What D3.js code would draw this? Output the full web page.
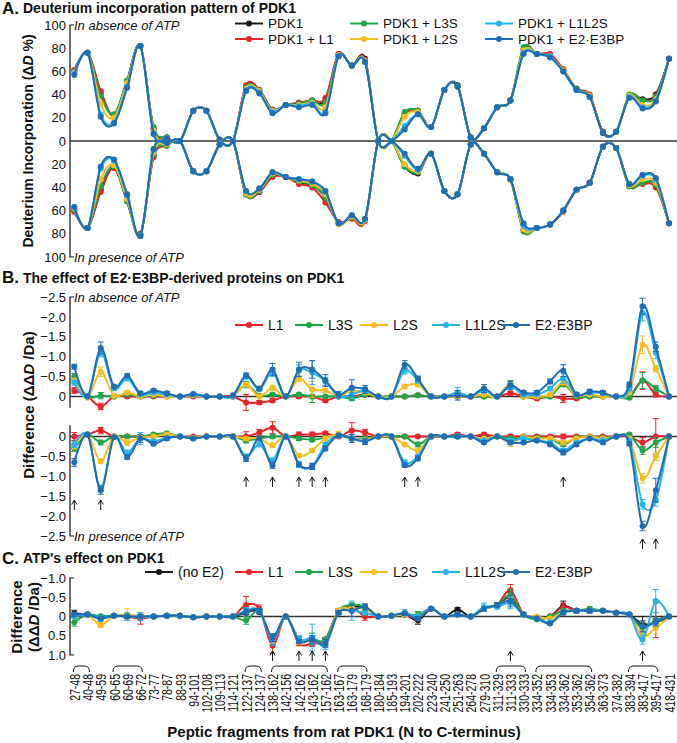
<!DOCTYPE html>
<html>
<head>
<meta charset="utf-8">
<script src="https://cdn.jsdelivr.net/npm/d3@7"></script>
<style>
body{margin:0;background:#fff;}
svg{display:block;}
text{font-family:"Liberation Sans",Arial,Helvetica,sans-serif;}
</style>
</head>
<body>
<svg id="chart" width="677" height="743"></svg>
<script>
// ---------------- DATA ----------------
const fragments = ["27-48","40-48","49-59","60-65","60-69","66-72","73-77","78-87","88-93","94-101","102-108","109-113","114-121","122-137","124-137","138-162","142-156","142-162","143-162","157-162","163-167","163-179","168-179","180-184","185-193","194-201","202-222","223-240","241-250","251-263","264-278","279-310","311-329","311-333","330-333","334-352","334-353","334-362","353-362","354-362","363-373","374-382","383-394","383-417","395-417","418-431"];

const namesA = ["PDK1","PDK1 + L1","PDK1 + L3S","PDK1 + L2S","PDK1 + L1L2S","PDK1 + E2·E3BP"];
const namesB = ["L1","L3S","L2S","L1L2S","E2·E3BP"];
const namesC = ["(no E2)","L1","L3S","L2S","L1L2S","E2·E3BP"];

// Panel A, absence of ATP (% deuterium)
const aAbsPDK1  = [61,76,41,22,52,82,10,3,0,26,26,1,0,47,44,27,31,33,35,35,75,65,71,0,0,24,26,12,44,48,3,11,29,35,79,75,74,61,45,39,8,8,39,36,40,71];
const aAbsL1    = [61,76,43,22,52,82,11,3,0,26,26,1,0,48,44,27,31,33,35,37,75,65,70,0,0,23,26,12,44,47,3,11,29,35,78,75,75,62,45,40,8,8,39,35,39,71];
const aAbsL3S   = [60,76,39,23,52,82,12,3,0,26,26,1,0,46,43,26,31,32,35,33,74,65,69,0,0,25,26,12,44,47,3,11,29,35,81,75,73,61,45,39,7,8,40,35,38,71];
const aAbsL2S   = [59,76,32,20,50,82,9,2,0,26,26,1,0,45,43,26,31,31,33,29,74,65,69,0,0,21,25,12,44,47,3,11,29,35,78,75,73,61,44,39,7,8,39,31,36,71];
const aAbsL1L2S = [58,76,23,16,47,82,7,2,0,26,26,1,0,44,42,25,31,30,32,25,73,65,68,0,0,13,23,12,44,47,3,11,29,35,76,75,73,60,44,38,7,8,38,29,35,71];
const aAbsE2    = [57,76,21,15,46,82,6,2,0,26,26,1,0,43,41,24,31,29,31,24,73,65,68,0,0,10,23,12,44,47,3,11,29,35,75,75,72,60,44,38,7,8,37,28,34,71];

// Panel A, presence of ATP (% deuterium, drawn downward)
const aPresPDK1  = [60,75,42,23,52,81,12,3,0,26,26,3,0,46,44,30,31,36,38,48,70,66,68,0,0,22,28,11,43,46,3,11,27,33,77,75,72,60,42,36,5,6,39,36,38,71];
const aPresL1    = [61,75,44,23,52,80,14,4,0,26,26,3,0,46,44,31,31,37,40,53,70,67,69,0,0,21,27,11,43,46,3,11,27,33,76,75,72,61,42,36,5,6,38,37,40,71];
const aPresL3S   = [59,75,39,22,52,81,12,4,0,26,26,3,0,46,43,29,31,35,38,49,71,66,68,0,0,22,27,11,43,46,3,11,27,33,78,75,72,60,42,36,5,6,39,36,38,71];
const aPresL2S   = [58,75,33,21,50,82,10,3,0,26,26,3,0,45,42,28,31,34,37,46,72,65,68,0,0,20,26,11,43,46,3,11,27,33,76,75,72,60,42,36,5,6,38,33,36,71];
const aPresL1L2S = [57,75,24,17,47,82,8,2,0,26,26,3,0,43,41,27,31,33,35,44,71,64,67,0,0,13,25,11,43,46,3,11,27,33,73,75,72,60,42,36,5,6,37,30,33,71];
const aPresE2    = [57,75,22,16,46,82,7,2,0,26,26,3,0,43,41,27,31,33,35,43,71,64,67,0,0,11,24,11,43,46,3,11,27,33,71,75,72,60,42,36,5,6,37,29,32,71];

// Panel B, absence of ATP (ΔΔD, Da)
const bAbsL1    = [-0.15,0.00,0.25,0.00,0.00,0.00,0.00,0.00,0.00,0.00,0.00,0.00,0.00,0.15,0.15,0.10,0.00,0.00,0.00,0.10,0.00,0.00,-0.05,0.00,0.00,0.00,-0.03,0.00,0.00,0.00,0.00,0.00,0.00,-0.08,0.00,0.05,0.00,0.05,0.05,0.00,0.00,0.00,0.00,-0.40,-0.05,0.00];
const bAbsL3S   = [-0.50,0.00,-0.02,0.00,-0.05,0.00,-0.02,-0.03,0.00,-0.03,0.00,0.00,0.00,-0.30,-0.02,-0.05,0.00,-0.05,0.00,0.00,0.00,0.05,-0.05,0.00,0.00,0.00,-0.03,0.00,0.00,0.00,0.00,0.00,0.00,-0.30,0.00,0.00,0.00,-0.30,0.00,0.00,0.00,0.00,0.03,-0.40,-0.20,0.00];
const bAbsL2S   = [-0.40,0.03,-0.62,-0.02,-0.10,0.00,-0.05,0.00,0.00,-0.03,0.00,0.00,0.00,-0.30,0.00,-0.22,0.00,-0.45,-0.18,-0.15,-0.02,-0.15,-0.10,0.00,0.00,-0.25,-0.30,0.00,0.00,0.00,0.00,-0.05,0.00,-0.30,0.00,0.00,-0.05,-0.35,-0.03,-0.05,0.00,0.00,-0.10,-1.30,-0.70,0.00];
const bAbsL1L2S = [-0.35,0.00,-1.10,-0.20,-0.45,-0.05,-0.10,-0.05,0.00,-0.05,0.00,0.00,0.00,-0.50,-0.18,-0.60,0.00,-0.65,-0.60,-0.38,0.00,-0.05,-0.15,0.00,0.00,-0.65,-0.40,0.00,0.00,-0.10,0.00,-0.15,0.00,-0.25,-0.05,-0.05,-0.20,-0.45,-0.05,-0.10,-0.08,0.00,-0.20,-2.10,-1.10,0.00];
const bAbsE2    = [-0.75,0.00,-1.22,-0.25,-0.52,-0.08,-0.15,-0.08,0.00,-0.06,0.00,0.00,-0.03,-0.53,-0.20,-0.68,0.00,-0.68,-0.68,-0.40,-0.05,-0.22,-0.18,0.00,0.00,-0.80,-0.45,0.00,0.00,-0.03,0.00,-0.20,0.00,-0.28,-0.10,-0.10,-0.38,-0.65,-0.05,-0.12,-0.10,0.00,-0.30,-2.27,-1.25,0.00];
// error bars, absence
const bAbsErrL1    = [0.07,0.02,0.08,0.03,0.03,0.03,0.03,0.02,0.02,0.02,0.02,0.02,0.02,0.20,0.05,0.05,0.02,0.04,0.04,0.05,0.03,0.05,0.04,0.02,0.02,0.03,0.03,0.02,0.02,0.05,0.02,0.03,0.02,0.05,0.03,0.03,0.03,0.10,0.03,0.03,0.03,0.02,0.03,0.22,0.06,0.02];
const bAbsErrL3S   = [0.08,0.02,0.08,0.03,0.03,0.05,0.03,0.03,0.02,0.02,0.02,0.02,0.02,0.08,0.03,0.04,0.02,0.04,0.15,0.03,0.03,0.05,0.05,0.02,0.02,0.03,0.03,0.02,0.02,0.03,0.02,0.03,0.02,0.10,0.03,0.03,0.03,0.05,0.03,0.03,0.03,0.02,0.03,0.20,0.08,0.02];
const bAbsErrL2S   = [0.05,0.02,0.12,0.03,0.04,0.02,0.03,0.02,0.02,0.02,0.02,0.02,0.02,0.05,0.03,0.06,0.02,0.08,0.20,0.05,0.03,0.05,0.05,0.02,0.02,0.05,0.05,0.02,0.02,0.03,0.02,0.03,0.02,0.06,0.03,0.03,0.03,0.06,0.03,0.03,0.03,0.02,0.05,0.22,0.08,0.02];
const bAbsErrL1L2S = [0.06,0.02,0.10,0.04,0.05,0.03,0.04,0.03,0.02,0.02,0.02,0.02,0.02,0.06,0.04,0.10,0.02,0.15,0.30,0.10,0.04,0.10,0.08,0.02,0.02,0.08,0.06,0.02,0.02,0.12,0.02,0.06,0.02,0.08,0.04,0.04,0.05,0.12,0.04,0.05,0.04,0.02,0.05,0.20,0.15,0.02];
const bAbsErrE2    = [0.06,0.02,0.15,0.04,0.05,0.04,0.04,0.04,0.02,0.03,0.02,0.02,0.02,0.06,0.04,0.15,0.02,0.18,0.22,0.15,0.08,0.20,0.10,0.02,0.02,0.10,0.06,0.03,0.03,0.12,0.03,0.10,0.03,0.10,0.05,0.05,0.06,0.15,0.05,0.06,0.05,0.02,0.06,0.20,0.12,0.02];

// Panel B, presence of ATP
const bPresL1    = [0.00,0.05,0.15,0.00,0.00,0.00,0.03,0.05,0.00,0.00,0.00,0.00,0.00,0.00,0.10,0.22,0.00,0.05,0.05,0.08,0.00,0.15,0.10,0.00,0.00,0.00,0.00,0.00,0.00,0.05,0.00,0.05,0.00,0.00,0.00,0.00,0.00,0.00,0.00,0.00,0.00,0.00,0.00,-0.15,0.00,0.00];
const bPresL3S   = [-0.30,0.05,-0.15,0.00,0.00,0.00,0.05,0.08,0.00,-0.03,0.00,0.00,0.00,-0.10,-0.05,0.00,0.00,-0.05,-0.08,-0.03,0.03,-0.05,-0.05,0.00,0.00,0.00,-0.20,0.00,0.00,0.00,0.00,-0.05,0.00,-0.05,-0.02,-0.03,-0.05,-0.20,-0.03,0.00,-0.03,0.00,0.05,-0.35,-0.15,0.00];
const bPresL2S   = [-0.25,0.05,-0.62,0.00,-0.15,-0.02,0.00,0.05,0.00,-0.03,0.00,0.00,0.00,-0.05,-0.05,-0.22,0.00,-0.48,-0.35,-0.05,0.05,-0.05,-0.08,0.00,0.00,-0.20,-0.35,0.00,0.00,0.00,0.00,-0.05,0.00,-0.15,-0.02,-0.05,-0.05,-0.15,-0.05,0.00,-0.05,0.00,-0.05,-1.05,-0.50,0.00];
const bPresL1L2S = [-0.20,0.05,-1.30,-0.02,-0.40,-0.05,-0.12,-0.03,0.00,-0.05,0.00,0.00,0.00,-0.50,-0.20,-0.60,0.00,-0.72,-0.75,-0.20,0.02,-0.05,-0.12,0.00,0.00,-0.65,-0.50,0.00,0.00,0.00,0.00,-0.10,0.00,-0.10,-0.05,-0.10,-0.15,-0.35,-0.15,-0.05,-0.10,0.00,-0.10,-1.70,-1.60,0.00];
const bPresE2    = [-0.65,0.05,-1.35,-0.02,-0.52,-0.05,-0.18,-0.05,0.00,-0.05,0.00,0.00,0.00,-0.55,-0.05,-0.72,0.00,-0.70,-0.75,-0.30,0.03,-0.05,-0.12,0.00,0.00,-0.72,-0.55,0.00,0.00,0.00,0.00,-0.15,0.00,-0.15,-0.15,-0.10,-0.20,-0.40,-0.20,-0.05,-0.15,0.00,-0.18,-2.25,-1.35,0.00];
const bPresErrL1    = [0.10,0.02,0.08,0.03,0.04,0.04,0.03,0.03,0.02,0.02,0.02,0.02,0.02,0.12,0.08,0.15,0.02,0.06,0.06,0.04,0.03,0.20,0.08,0.02,0.02,0.03,0.03,0.02,0.02,0.05,0.02,0.04,0.02,0.05,0.03,0.03,0.03,0.06,0.03,0.03,0.03,0.02,0.03,0.12,0.45,0.02];
const bPresErrL3S   = [0.08,0.02,0.06,0.03,0.03,0.03,0.03,0.03,0.02,0.02,0.02,0.02,0.02,0.06,0.03,0.04,0.02,0.05,0.04,0.03,0.03,0.05,0.05,0.02,0.02,0.03,0.06,0.02,0.02,0.03,0.02,0.03,0.02,0.05,0.03,0.03,0.03,0.05,0.03,0.03,0.03,0.02,0.03,0.10,0.12,0.02];
const bPresErrL2S   = [0.06,0.02,0.05,0.03,0.08,0.03,0.03,0.03,0.02,0.02,0.02,0.02,0.02,0.04,0.04,0.05,0.02,0.05,0.05,0.04,0.08,0.05,0.05,0.02,0.02,0.04,0.05,0.02,0.02,0.04,0.02,0.03,0.02,0.10,0.03,0.03,0.03,0.05,0.03,0.03,0.03,0.02,0.04,0.12,0.10,0.02];
const bPresErrL1L2S = [0.08,0.02,0.08,0.03,0.05,0.15,0.05,0.03,0.02,0.02,0.02,0.02,0.02,0.06,0.05,0.06,0.02,0.05,0.06,0.05,0.03,0.05,0.05,0.02,0.02,0.05,0.05,0.02,0.02,0.05,0.02,0.03,0.02,0.05,0.03,0.03,0.03,0.05,0.03,0.03,0.03,0.02,0.04,0.12,0.15,0.02];
const bPresErrE2    = [0.10,0.02,0.10,0.03,0.05,0.10,0.05,0.04,0.02,0.03,0.02,0.02,0.02,0.08,0.05,0.08,0.02,0.06,0.08,0.06,0.04,0.10,0.08,0.02,0.02,0.05,0.06,0.02,0.03,0.04,0.02,0.04,0.02,0.05,0.04,0.03,0.04,0.06,0.04,0.03,0.04,0.02,0.05,0.12,0.30,0.02];

// Panel C, ATP's effect (ΔΔD, Da)
const cNoE2   = [-0.08,-0.05,0.00,-0.02,0.00,0.00,0.00,-0.02,-0.02,0.02,0.00,0.00,0.00,-0.10,-0.12,0.55,0.00,0.60,0.62,0.60,-0.15,-0.25,-0.22,0.00,-0.02,-0.05,0.10,-0.20,0.00,-0.18,0.00,-0.20,-0.30,-0.50,-0.05,0.05,0.00,-0.28,-0.15,-0.15,-0.15,-0.10,-0.05,0.20,0.15,0.00];
const cL1     = [0.00,-0.05,0.05,-0.02,0.00,0.05,0.00,-0.02,-0.02,0.02,0.00,0.00,0.00,-0.30,-0.20,0.75,0.00,0.70,0.70,0.60,-0.15,-0.25,0.00,0.00,-0.02,-0.05,0.05,-0.20,0.00,-0.05,0.00,-0.20,-0.30,-0.68,-0.05,0.05,0.00,-0.25,-0.15,-0.15,-0.15,-0.10,-0.05,0.30,0.10,0.00];
const cL3S    = [0.15,-0.05,0.00,-0.02,-0.03,0.00,0.00,-0.02,-0.02,0.02,0.00,0.00,0.00,0.10,-0.15,0.55,0.00,0.60,0.58,0.60,-0.15,-0.30,-0.25,0.00,-0.02,-0.05,-0.05,-0.20,0.00,-0.05,0.00,-0.20,-0.30,-0.55,-0.05,0.08,0.00,-0.15,-0.15,-0.20,-0.15,-0.10,-0.05,0.30,0.10,0.00];
const cL2S    = [0.00,-0.05,0.22,-0.02,-0.05,0.00,0.00,-0.02,-0.02,0.02,0.00,0.00,0.00,-0.15,-0.15,0.60,0.00,0.65,0.60,0.70,-0.15,-0.20,-0.20,0.00,-0.02,-0.05,0.00,-0.20,0.00,-0.05,0.00,-0.20,-0.28,-0.40,-0.05,0.00,0.05,-0.10,-0.15,-0.15,-0.15,-0.10,-0.05,0.50,0.30,0.00];
const cL1L2S  = [0.00,-0.05,0.05,-0.02,0.00,0.00,0.00,-0.02,-0.02,0.02,0.00,0.00,0.00,-0.15,-0.15,0.60,0.00,0.60,0.55,0.75,-0.10,-0.15,-0.10,0.00,-0.02,-0.10,0.00,-0.20,0.00,-0.05,0.00,-0.25,-0.25,-0.35,-0.05,0.05,0.15,-0.10,-0.15,-0.15,-0.15,-0.10,-0.05,0.60,-0.40,0.00];
const cE2     = [-0.05,-0.05,0.05,-0.02,0.00,0.00,0.00,-0.02,-0.02,0.02,0.00,0.00,0.00,-0.12,-0.15,0.55,0.00,0.65,0.60,0.70,-0.10,-0.15,-0.25,0.00,-0.02,-0.08,0.05,-0.20,0.00,-0.05,0.00,-0.20,-0.30,-0.40,-0.05,0.05,0.18,-0.10,-0.15,-0.15,-0.15,-0.10,-0.05,0.25,0.15,0.00];
const cErrNoE2  = [0.08,0.03,0.03,0.03,0.05,0.05,0.03,0.03,0.02,0.02,0.02,0.02,0.02,0.05,0.05,0.10,0.02,0.05,0.10,0.05,0.05,0.05,0.05,0.02,0.02,0.05,0.10,0.03,0.02,0.05,0.02,0.05,0.05,0.12,0.03,0.03,0.03,0.12,0.05,0.05,0.03,0.03,0.03,0.20,0.10,0.02];
const cErrL1    = [0.05,0.03,0.03,0.03,0.05,0.15,0.03,0.03,0.02,0.02,0.02,0.02,0.02,0.22,0.10,0.20,0.02,0.05,0.08,0.05,0.05,0.05,0.10,0.02,0.02,0.05,0.05,0.03,0.02,0.05,0.02,0.05,0.05,0.15,0.03,0.03,0.03,0.10,0.05,0.05,0.03,0.03,0.03,0.15,0.45,0.02];
const cErrL3S   = [0.10,0.03,0.03,0.03,0.05,0.05,0.03,0.03,0.02,0.02,0.02,0.02,0.02,0.10,0.05,0.10,0.02,0.08,0.15,0.05,0.05,0.05,0.05,0.02,0.02,0.05,0.08,0.03,0.02,0.05,0.02,0.05,0.05,0.15,0.03,0.03,0.03,0.05,0.05,0.05,0.03,0.03,0.03,0.15,0.20,0.02];
const cErrL2S   = [0.05,0.03,0.06,0.03,0.15,0.05,0.03,0.03,0.02,0.02,0.02,0.02,0.02,0.05,0.05,0.10,0.02,0.08,0.10,0.05,0.05,0.05,0.05,0.02,0.02,0.05,0.05,0.03,0.02,0.05,0.02,0.05,0.05,0.10,0.03,0.03,0.03,0.05,0.05,0.05,0.03,0.03,0.03,0.15,0.15,0.02];
const cErrL1L2S = [0.05,0.05,0.08,0.03,0.10,0.10,0.03,0.03,0.02,0.02,0.02,0.02,0.02,0.08,0.05,0.15,0.02,0.10,0.35,0.10,0.05,0.25,0.05,0.02,0.02,0.08,0.05,0.03,0.02,0.05,0.02,0.10,0.05,0.15,0.03,0.03,0.03,0.05,0.05,0.05,0.03,0.03,0.03,0.12,0.30,0.02];
const cErrE2    = [0.05,0.03,0.03,0.03,0.05,0.05,0.03,0.03,0.02,0.02,0.02,0.02,0.02,0.08,0.05,0.10,0.02,0.05,0.10,0.10,0.05,0.15,0.08,0.02,0.02,0.05,0.05,0.03,0.02,0.05,0.02,0.05,0.05,0.15,0.03,0.03,0.03,0.05,0.05,0.05,0.03,0.03,0.03,0.15,0.10,0.02];

// tick labels
const ticksA = [0,20,40,60,80,100];
const ticksB = [-2.5,-2.0,-1.5,-1.0,-0.5,0];
const ticksC = [-1.0,-0.5,0,0.5,1.0];

// arrows (fragments marked) and brackets (grouped fragments)
const arrowsB1 = ["122-137","138-162","142-162","143-162","157-162","194-201","202-222","334-362"];
const arrowsB2 = ["27-48","49-59"];
const arrowsB3 = ["383-417","395-417"];
const arrowsC  = ["138-162","142-162","143-162","157-162","311-333","383-417"];
const brackets = [["27-48","40-48"],["60-65","66-72"],["122-137","124-137"],["138-162","157-162"],["163-167","168-179"],["311-329","330-333"],["334-352","354-362"],["383-394","395-417"]];

// ---------------- STYLE ----------------
const COL = {black:"#1a1a1a", red:"#e8232a", green:"#1fa64a", yellow:"#f6bd1e", lblue:"#2ab4e9", blue:"#1f6db5"};
const colA = [COL.black,COL.red,COL.green,COL.yellow,COL.lblue,COL.blue];
const colB = [COL.red,COL.green,COL.yellow,COL.lblue,COL.blue];
const FONT = '"Liberation Sans",Arial,Helvetica,sans-serif';
const AX = 70;      // y-axis x position
const RIGHT = 677;  // zero line end

const svg = d3.select("#chart");
svg.append("rect").attr("width",677).attr("height",743).attr("fill","#fff");

const x = d3.scalePoint().domain(fragments).range([74.3, 669]);
const xi = i => x(fragments[i]);
const curve = d3.curveCardinal.tension(0);

function drawSeries(vals, errs, y, color){
  const g = svg.append("g");
  if (errs){
    vals.forEach((v,i)=>{
      const e = errs[i]; if (!e || e < 0.03) return;
      const cx = xi(i), ya = y(v-e), yb = y(v+e);
      g.append("path").attr("d",`M${cx},${ya}V${yb}M${cx-3},${ya}H${cx+3}M${cx-3},${yb}H${cx+3}`)
        .attr("stroke",color).attr("stroke-width",1).attr("fill","none");
    });
  }
  const line = d3.line().x((d,i)=>xi(i)).y(d=>y(d)).curve(curve);
  g.append("path").datum(vals).attr("d",line).attr("fill","none").attr("stroke",color).attr("stroke-width",2);
  g.selectAll("circle").data(vals).join("circle")
    .attr("cx",(d,i)=>xi(i)).attr("cy",d=>y(d)).attr("r",3).attr("fill",color);
}

function yAxis(scale, ticks, fmt, yTop, yBot, capTop, capBot){
  const g = svg.append("g").attr("transform",`translate(${AX},0)`)
    .call(d3.axisLeft(scale).tickValues(ticks).tickFormat(fmt).tickSize(0).tickPadding(4));
  g.select(".domain").remove();
  g.attr("font-family",FONT).attr("font-size",13);
  g.selectAll("text").attr("fill","#111");
  svg.append("path")
    .attr("d",`M${AX+(capTop?4:0)},${yTop}H${AX}V${yBot}H${AX+(capBot?4:0)}`)
    .attr("stroke","#111").attr("stroke-width",1.2).attr("fill","none");
}
function zeroLine(y0){
  svg.append("line").attr("x1",AX).attr("x2",RIGHT).attr("y1",y0).attr("y2",y0)
    .attr("stroke","#333").attr("stroke-width",1.5);
}
const fmtDec = d => d===0 ? "0" : (d<0?"\u2212":"") + Math.abs(d).toFixed(1);

function txt(xp, yp, s, size, opts={}){
  const t = svg.append("text").attr("x",xp).attr("y",yp).attr("font-size",size).attr("fill","#111")
    .attr("font-family",FONT).text(s);
  if (opts.bold) t.attr("font-weight","bold");
  if (opts.italic) t.attr("font-style","italic");
  if (opts.anchor) t.attr("text-anchor",opts.anchor);
  return t;
}
function legendItem(x1, yy, label, color, size){
  svg.append("line").attr("x1",x1).attr("x2",x1+28).attr("y1",yy).attr("y2",yy).attr("stroke",color).attr("stroke-width",2);
  svg.append("circle").attr("cx",x1+14).attr("cy",yy).attr("r",3).attr("fill",color);
  txt(x1+33, yy+0.35*size, label, size);
}
function arrow(xc, yTop){
  svg.append("path").attr("d",`M${xc},${yTop+10}V${yTop}M${xc-2.6},${yTop+4.5}L${xc},${yTop}L${xc+2.6},${yTop+4.5}`)
    .attr("stroke","#111").attr("stroke-width",1).attr("fill","none");
}
function vtext(xp, yp, parts, size){
  const t = svg.append("text").attr("transform",`translate(${xp},${yp}) rotate(-90)`)
    .attr("text-anchor","middle").attr("font-size",size).attr("font-weight","bold").attr("font-family",FONT).attr("fill","#111");
  parts.forEach(p=>{ const s=t.append("tspan").text(p[0]); if(p[1]) s.attr("font-style","italic"); });
  return t;
}

// ---------------- PANEL A ----------------
txt(2, 14, "A.", 17, {bold:true});
txt(23, 13, "Deuterium incorporation pattern of PDK1", 14, {bold:true});
const yAt = d3.scaleLinear().domain([0,100]).range([141,25]);
const yAb = d3.scaleLinear().domain([0,100]).range([141,257]);
yAxis(yAt, ticksA, d=>d, 25, 141, true, false);
yAxis(yAb, ticksA.slice(1), d=>d, 141, 257, false, true);
zeroLine(141);
txt(74, 30, "In absence of ATP", 13, {italic:true});
txt(74, 262, "In presence of ATP", 13, {italic:true});
vtext(33, 141, [["Deuterium Incorporation (Δ"],["D",true],[" %)"]], 14);
[aAbsPDK1,aAbsL1,aAbsL3S,aAbsL2S,aAbsL1L2S,aAbsE2].forEach((s,k)=>drawSeries(s,null,yAt,colA[k]));
[aPresPDK1,aPresL1,aPresL3S,aPresL2S,aPresL1L2S,aPresE2].forEach((s,k)=>drawSeries(s,null,yAb,colA[k]));
const legAx = [235,235,350,350,485,485], legAy=[23.5,39,23.5,39,23.5,39];
namesA.forEach((n,k)=>legendItem(legAx[k], legAy[k], n, colA[k], 13.5));

// ---------------- PANEL B ----------------
txt(2, 283, "B.", 17, {bold:true});
txt(23, 283, "The effect of E2·E3BP-derived proteins on PDK1", 14, {bold:true});
const yBt = d3.scaleLinear().domain([-2.5,0]).range([297,396.5]);
const yBb = d3.scaleLinear().domain([-2.5,0]).range([536,436.5]);
yAxis(yBt, ticksB, fmtDec, 297, yBt(0.28), true, false);
yAxis(yBb, ticksB, fmtDec, yBb(0.28), 536, false, true);
zeroLine(yBt(0)); zeroLine(yBb(0));
txt(74, 302, "In absence of ATP", 13, {italic:true});
txt(74, 541, "In presence of ATP", 13, {italic:true});
vtext(34, 405, [["Difference (ΔΔ"],["D",true],[" /Da)"]], 15);
[[bAbsL1,bAbsErrL1],[bAbsL3S,bAbsErrL3S],[bAbsL2S,bAbsErrL2S],[bAbsL1L2S,bAbsErrL1L2S],[bAbsE2,bAbsErrE2]]
  .forEach((p,k)=>drawSeries(p[0],p[1],yBt,colB[k]));
[[bPresL1,bPresErrL1],[bPresL3S,bPresErrL3S],[bPresL2S,bPresErrL2S],[bPresL1L2S,bPresErrL1L2S],[bPresE2,bPresErrE2]]
  .forEach((p,k)=>drawSeries(p[0],p[1],yBb,colB[k]));
const legBx = [235,295,360,432,502];
namesB.forEach((n,k)=>legendItem(legBx[k], 325, n, colB[k], 14));
arrowsB1.forEach(f=>arrow(x(f),477));
arrowsB2.forEach(f=>arrow(x(f),500));
arrowsB3.forEach(f=>arrow(x(f),539));

// ---------------- PANEL C ----------------
txt(2, 564, "C.", 17, {bold:true});
txt(23, 563, "ATP's effect on PDK1", 14, {bold:true});
const yC = d3.scaleLinear().domain([-1,1]).range([578,655]);
yAxis(yC, ticksC, fmtDec, 578, 655, true, true);
zeroLine(yC(0));
vtext(22, 617, [["Difference"]], 15);
vtext(39, 617, [["(ΔΔ"],["D",true],[" /Da)"]], 15);
[[cNoE2,cErrNoE2],[cL1,cErrL1],[cL3S,cErrL3S],[cL2S,cErrL2S],[cL1L2S,cErrL1L2S],[cE2,cErrE2]]
  .forEach((p,k)=>drawSeries(p[0],p[1],yC,colA[k]));
const legCx = [145,235,295,360,432,502];
namesC.forEach((n,k)=>legendItem(legCx[k], 572, n, colA[k], 14));
arrowsC.forEach(f=>arrow(x(f),651));

// ---------------- X AXIS ----------------
const gx = svg.append("g").attr("transform","translate(0,674)").call(d3.axisBottom(x).tickSize(0));
gx.select(".domain").remove();
gx.attr("font-family",FONT).attr("font-size",14);
gx.selectAll("text").attr("fill","#111").attr("x",0).attr("y",0).attr("dy","0.36em")
  .attr("text-anchor","end").attr("transform","rotate(-90) scale(0.75,1)");
brackets.forEach(b=>{
  const x1 = x(b[0]) - 1, x2 = x(b[1]) + 2, y0 = 666;
  svg.append("path").attr("d",`M${x1},${y0+6}Q${x1},${y0} ${x1+5},${y0}H${x2-5}Q${x2},${y0} ${x2},${y0+6}`)
    .attr("stroke","#111").attr("stroke-width",1).attr("fill","none");
});
txt(344, 737, "Peptic fragments from rat PDK1 (N to C-terminus)", 15, {bold:true, anchor:"middle"});
</script>
</body>
</html>
